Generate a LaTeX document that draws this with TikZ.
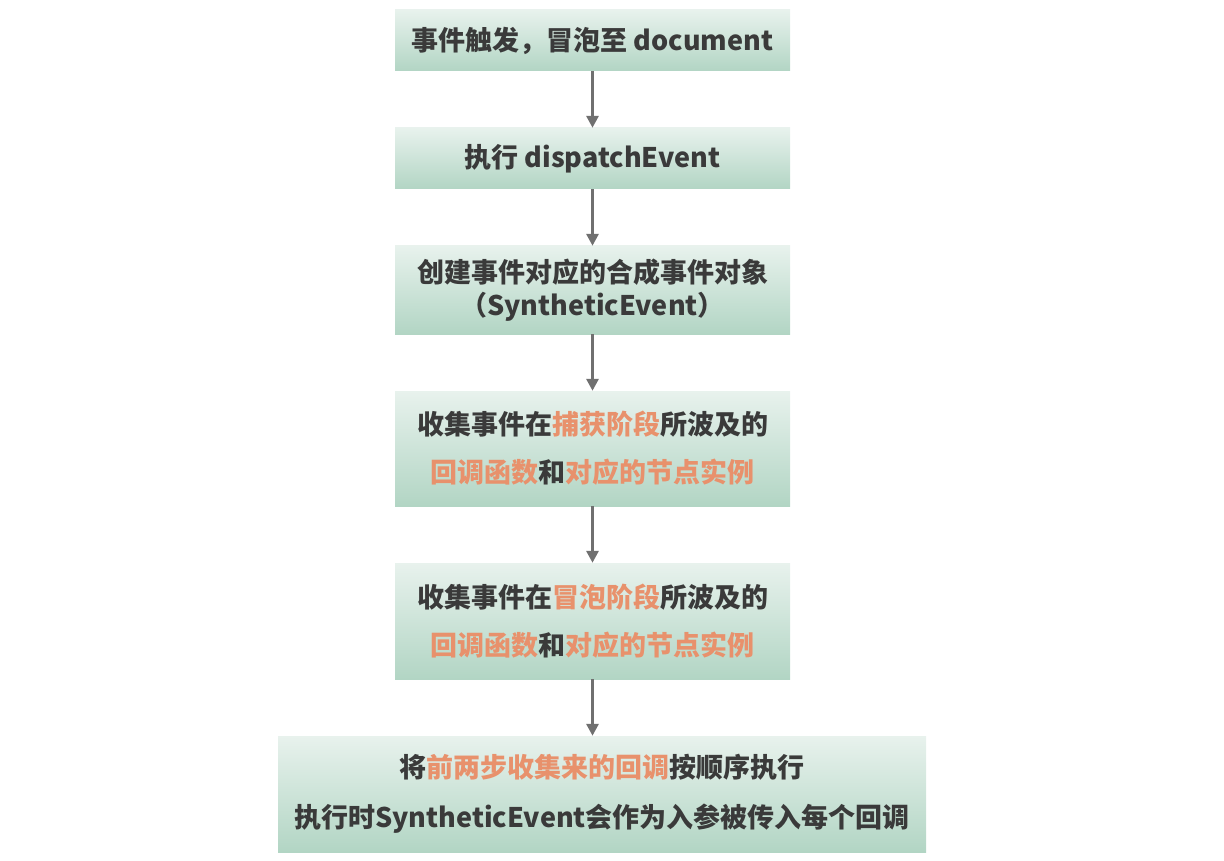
\documentclass[tikz,border=0pt]{standalone}
\usepackage{fontspec}
\newfontfamily\cjk{Noto Sans CJK SC}
\usepackage{tikz}
\usetikzlibrary{arrows.meta,positioning}
\definecolor{mint}{RGB}{232, 242, 237}
\definecolor{sage}{RGB}{178, 213, 196}
\definecolor{ink}{RGB}{58, 58, 58}
\definecolor{peach}{RGB}{232, 145, 108}
\definecolor{wire}{RGB}{112, 112, 112}
\newcommand{\hl}[1]{\textcolor{peach}{#1}}
\tikzstyle{stage} = [rectangle, top color=mint, bottom color=sage, text=ink, align=center, font=\cjk\bfseries\fontsize{27}{33}\selectfont, minimum width=395pt, inner sep=0pt]
\tikzstyle{tedge} = [draw, line width=3.5pt, wire, >={Triangle[length=12pt,width=12pt]}, ->]

\begin{document}
\begin{tikzpicture}[x=1pt,y=1pt]
\useasboundingbox (0,0) rectangle (1224,-861);

% event flow =============================
\node[stage, minimum height=61pt] (bubble) at (592.5,-40.5) {事件触发，冒泡至 document};
\node[stage, minimum height=61pt, below=56.6pt of bubble] (dispatch) {执行 dispatchEvent};
\node[stage, minimum height=88pt, below=56.6pt of dispatch] (synth) {创建事件对应的合成事件对象\\（SyntheticEvent）};
\node[stage, minimum height=115pt, below=56.6pt of synth] (capture) {收集事件在\hl{捕获阶段}所波及的\\[15pt]\hl{回调函数}和\hl{对应的节点实例}};
\node[stage, minimum height=116pt, below=56.6pt of capture] (bubbling) {收集事件在\hl{冒泡阶段}所波及的\\[15pt]\hl{回调函数}和\hl{对应的节点实例}};
\node[stage, minimum height=116pt, minimum width=648pt, below=56.6pt of bubbling, xshift=9.5pt] (run) {将\hl{前两步收集来的回调}按顺序执行\\[17pt]执行时SyntheticEvent会作为入参被传入每个回调};

% edges
\path[tedge] (bubble) -- (dispatch);
\path[tedge] (dispatch) -- (synth);
\path[tedge] (synth) -- (capture);
\path[tedge] (capture) -- (bubbling);
\path[tedge] (bubbling.south) -- (bubbling.south |- run.north);

\end{tikzpicture}
\end{document}
